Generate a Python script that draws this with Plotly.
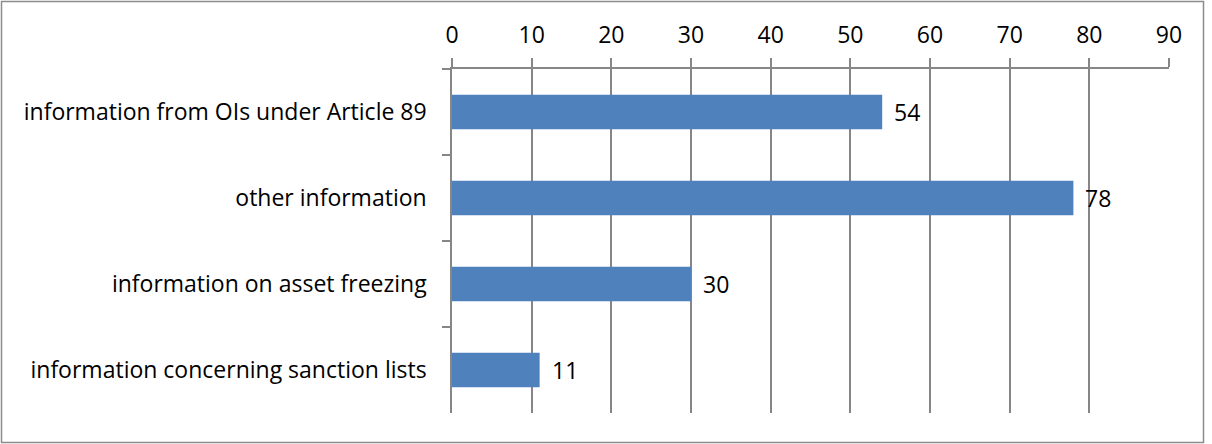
import plotly.graph_objects as go

categories = [
    "information from OIs under Article 89",
    "other information",
    "information on asset freezing",
    "information concerning sanction lists",
]
values = [54, 78, 30, 11]
x_ticks = [0, 10, 20, 30, 40, 50, 60, 70, 80, 90]

W, H = 1212, 444
ML, MR, MT, MB = 452, 43, 69, 31
PW, PH = W - ML - MR, H - MT - MB

AXIS = "#868686"
FONT = "'Open Sans', Lato, sans-serif"
FS = 23

fig = go.Figure(
    go.Bar(
        x=values,
        y=categories,
        orientation="h",
        marker=dict(color="#4F81BD", line=dict(width=0)),
        width=0.4,
        hoverinfo="skip",
    )
)

# value labels just past the end of each bar
for v, c in zip(values, categories):
    fig.add_annotation(
        x=v, y=c, text=str(v), showarrow=False,
        xanchor="left", yanchor="middle", xshift=10,
        font=dict(family=FONT, size=FS, color="#000000"),
    )

# outer frame around the whole chart
fig.add_shape(
    type="rect", xref="paper", yref="paper",
    x0=(1.5 - ML) / PW, x1=(1203.5 - ML) / PW,
    y0=-(442.5 - (H - MB)) / PH, y1=1 + (MT - 1.5) / PH,
    line=dict(color="#8c8c8c", width=1.5), fillcolor="rgba(0,0,0,0)",
    layer="below",
)

fig.update_layout(
    width=W, height=H,
    margin=dict(l=ML, r=MR, t=MT, b=MB),
    paper_bgcolor="white", plot_bgcolor="white",
    showlegend=False,
    font=dict(family=FONT, size=FS, color="#000000"),
    xaxis=dict(
        side="top", range=[0, 90], tickvals=x_ticks,
        showgrid=True, gridcolor=AXIS, gridwidth=1.5,
        zeroline=False, showline=True, linecolor=AXIS, linewidth=1.5,
        ticks="outside", ticklen=9, tickcolor=AXIS, tickwidth=1.5,
        ticklabelstandoff=6, fixedrange=True,
    ),
    yaxis=dict(
        autorange="reversed", showgrid=False, zeroline=False,
        showline=True, linecolor=AXIS, linewidth=1.5,
        ticks="outside", ticklen=8, tickcolor=AXIS, tickwidth=1.5,
        tickson="boundaries", ticklabelstandoff=19, fixedrange=True,
    ),
)

fig.write_html("out.html")
